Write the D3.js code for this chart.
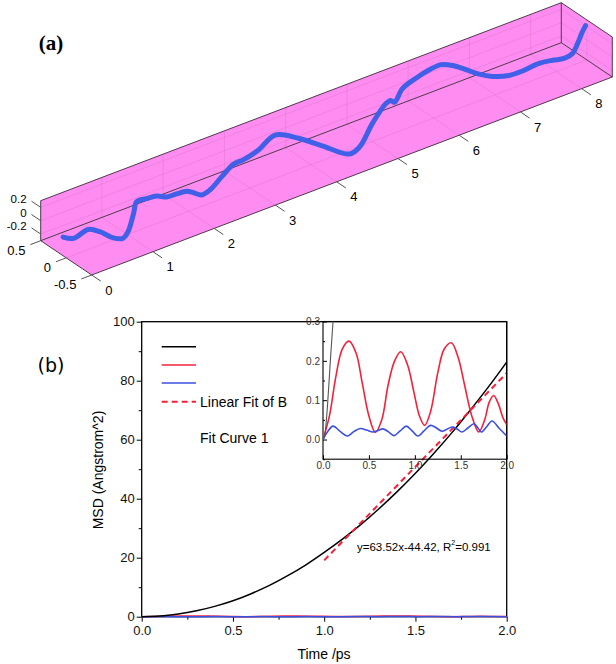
<!DOCTYPE html>
<html><head><meta charset="utf-8">
<script src="https://cdn.jsdelivr.net/npm/d3@7"></script>
<style>body{margin:0;background:#fff}svg{display:block}</style>
</head><body><svg id="c" width="616" height="664"></svg>
<script>
// ---------- Panel (a) data ----------
const boxXTicks = [0,1,2,3,4,5,6,7,8];
const boxYTicks = [0.5,0,-0.5];
const boxZTicks = [0.2,0,-0.2];
const trajX = [-0.05,0.12,0.36,0.55,0.77,0.93,1.01,1.10,1.15,1.31,1.48,1.64,1.80,1.97,2.08,2.21,2.35,2.54,2.73,2.89,3.14,3.41,3.79,4.18,4.63,4.79,5.00,5.22,5.30,5.36,5.49,5.71,5.93,6.12,6.31,6.53,6.74,6.96,7.23,7.45,7.72,7.94,8.13,8.27,8.35,8.43,8.48];
const trajZ = [0.03,-0.05,0.00,-0.10,-0.27,-0.33,-0.26,-0.02,0.14,0.13,0.11,0.04,0.03,0.01,-0.05,-0.13,-0.10,0.03,0.15,0.16,0.22,0.35,0.17,-0.08,-0.36,-0.31,-0.03,0.19,0.21,0.16,0.32,0.40,0.45,0.46,0.38,0.24,0.10,-0.01,-0.09,-0.10,-0.08,-0.11,-0.15,-0.12,0.00,0.15,0.22];

// ---------- Panel (b) data ----------
const msdT = [0,0.1,0.2,0.3,0.4,0.5,0.6,0.7,0.8,0.9,1.0,1.1,1.2,1.3,1.4,1.5,1.6,1.7,1.8,1.9,2.0];
const msdA = [0,0.2,0.9,2.0,3.5,5.4,7.8,10.6,13.9,17.6,21.8,26.3,31.2,36.6,42.4,48.6,55.3,62.4,70.0,77.9,86.3];
const fitT = [1.0,2.0];
const fitV = [19.1,82.6];
const insetBlackT = [0,0.02,0.05,0.08,0.115];
const insetBlackV = [0,0.012,0.09,0.2,0.32];
const redT = [0,0.07,0.14,0.21,0.283,0.36,0.43,0.50,0.57,0.64,0.71,0.78,0.846,0.92,0.99,1.05,1.107,1.17,1.25,1.32,1.397,1.47,1.54,1.62,1.695,1.76,1.81,1.858,1.91,1.96,2.0];
const redV = [0,0.06,0.16,0.23,0.25,0.22,0.14,0.06,0.018,0.05,0.14,0.20,0.223,0.19,0.12,0.06,0.036,0.07,0.17,0.23,0.246,0.21,0.14,0.06,0.019,0.05,0.095,0.112,0.09,0.055,0.038];
const blueT = [0,0.05,0.109,0.19,0.265,0.335,0.406,0.475,0.544,0.60,0.653,0.71,0.773,0.84,0.907,0.97,1.034,1.10,1.172,1.23,1.296,1.355,1.415,1.465,1.513,1.58,1.644,1.685,1.724,1.78,1.84,1.92,2.0];
const blueV = [0,0.02,0.034,0.02,0.009,0.02,0.028,0.024,0.019,0.023,0.027,0.02,0.010,0.022,0.034,0.022,0.009,0.022,0.036,0.03,0.021,0.027,0.032,0.026,0.019,0.03,0.040,0.03,0.019,0.032,0.047,0.028,0.009];
const mainXTicks = [0,0.5,1.0,1.5,2.0];
const mainXMinor = [0.25,0.75,1.25,1.75];
const mainYTicks = [0,20,40,60,80,100];
const mainYMinor = [10,30,50,70,90];
const insetXTicks = [0,0.5,1.0,1.5,2.0];
const insetYTicks = [0,0.1,0.2,0.3];
const insetYMinor = [-0.05,0.05,0.15,0.25];
const legendLabels = ["", "", "", "Linear Fit of B"];

const FONT = "'Liberation Sans', Arial, sans-serif";
const RED = "#f5213b", BLUE = "#3b4fe0";
const svg = d3.select("#c");

// ================= Panel (a) =================
const hx = d3.scaleLinear().domain([0,8.5]).range([40.7,561.3]);
const vx = d3.scaleLinear().domain([0,8.5]).range([240.7,42.7]);
const hy = d3.scaleLinear().domain([0.5,-0.5]).range([0,51]);
const vy = d3.scaleLinear().domain([0.5,-0.5]).range([0,34.3]);
const vz = d3.scaleLinear().domain([-0.3,0.3]).range([0,-40]);
const P = (x,y,z) => [hx(x)+hy(y), vx(x)+vy(y)+vz(z)];
const gA = svg.append("g");
const X0=0,X1=8.5,Y0=-0.5,Y1=0.5,Z0=-0.3,Z1=0.3;
const walls = [
  [P(X0,Y1,Z0),P(X1,Y1,Z0),P(X1,Y1,Z1),P(X0,Y1,Z1)],
  [P(X0,Y1,Z0),P(X1,Y1,Z0),P(X1,Y0,Z0),P(X0,Y0,Z0)],
  [P(X1,Y1,Z0),P(X1,Y0,Z0),P(X1,Y0,Z1),P(X1,Y1,Z1)]
];
gA.selectAll("path.wall").data(walls).join("path")
  .attr("d", d => "M"+d.map(p=>p.join(",")).join("L")+"Z")
  .attr("fill","#ff8cf0").attr("stroke","none");
// grid
const grid = [];
boxXTicks.filter(v=>v>0).forEach(v=>{ grid.push([P(v,Y1,Z0),P(v,Y1,Z1)]); grid.push([P(v,Y1,Z0),P(v,Y0,Z0)]); });
boxZTicks.forEach(v=>{ grid.push([P(X0,Y1,v),P(X1,Y1,v)]); grid.push([P(X1,Y1,v),P(X1,Y0,v)]); });
[0].forEach(v=>{ grid.push([P(X0,v,Z0),P(X1,v,Z0)]); grid.push([P(X1,v,Z0),P(X1,v,Z1)]); });
gA.selectAll("line.grid").data(grid).join("line")
  .attr("x1",d=>d[0][0]).attr("y1",d=>d[0][1]).attr("x2",d=>d[1][0]).attr("y2",d=>d[1][1])
  .attr("stroke","#b05aa8").attr("stroke-opacity",0.3).attr("stroke-width",0.7);
// edges
const edges = [
  [P(X0,Y1,Z1),P(X1,Y1,Z1)],[P(X0,Y1,Z0),P(X0,Y1,Z1)],[P(X0,Y1,Z0),P(X1,Y1,Z0)],
  [P(X0,Y1,Z0),P(X0,Y0,Z0)],[P(X0,Y0,Z0),P(X1,Y0,Z0)],
  [P(X1,Y1,Z1),P(X1,Y0,Z1)],[P(X1,Y0,Z1),P(X1,Y0,Z0)],[P(X1,Y1,Z0),P(X1,Y0,Z0)],[P(X1,Y1,Z0),P(X1,Y1,Z1)]
];
gA.selectAll("line.edge").data(edges).join("line")
  .attr("x1",d=>d[0][0]).attr("y1",d=>d[0][1]).attr("x2",d=>d[1][0]).attr("y2",d=>d[1][1])
  .attr("stroke","#3a2a3a").attr("stroke-width",0.9);
// trajectory
const traj = trajX.map((x,i)=>P(x,0,trajZ[i]));
gA.append("path").attr("d", d3.line().curve(d3.curveCatmullRom.alpha(0.5))(traj))
  .attr("fill","none").attr("stroke","#4060e8").attr("stroke-width",5)
  .attr("stroke-linecap","round").attr("stroke-linejoin","round");
// ticks
const tickLen = 11;
const ux=[0.83,0.558], ud=[-0.935,0.356], uz=[-0.83,-0.558];
function tickG(pts, dir, lab, dx, dy, anchor, fs){
  pts.forEach((p,i)=>{
    const e=[p[0]+dir[0]*tickLen, p[1]+dir[1]*tickLen];
    gA.append("line").attr("x1",p[0]).attr("y1",p[1]).attr("x2",e[0]).attr("y2",e[1])
      .attr("stroke","#555").attr("stroke-width",1);
    gA.append("text").attr("x",e[0]+dx).attr("y",e[1]+dy).attr("text-anchor",anchor)
      .attr("dominant-baseline","central").attr("font-family",FONT).attr("font-size",fs).text(lab[i]);
  });
}
tickG(boxXTicks.map(v=>P(v,Y0,Z0)), ux, boxXTicks.map(String), 8, 9, "middle", 13);
tickG(boxYTicks.map(v=>P(X0,v,Z0)), ud, boxYTicks.map(String), -5, 6, "end", 13);
tickG(boxZTicks.map(v=>P(X0,Y1,v)), uz, boxZTicks.map(String), -5, -2, "end", 11.5);
gA.append("text").attr("x",51).attr("y",50).attr("text-anchor","middle")
  .attr("font-family","Liberation Serif, DejaVu Serif, serif").attr("font-weight","bold")
  .attr("font-size",21).text("(a)");

// ================= Panel (b) =================
const gB = svg.append("g");
const x = d3.scaleLinear().domain([0,2]).range([141.7,506.7]);
const y = d3.scaleLinear().domain([0,100]).range([616.7,321.7]);
const line = (xs,ys,sx,sy,curve) => d3.line().curve(curve||d3.curveLinear).x(d=>sx(d[0])).y(d=>sy(d[1]))(xs.map((t,i)=>[t,ys[i]]));

function styleAxis(g, fs){
  g.select(".domain").remove();
  g.selectAll("text").attr("font-family",FONT).attr("font-size",fs).attr("fill","#111");
  g.selectAll("line").attr("stroke","#000");
}
styleAxis(gB.append("g").attr("transform","translate(141.7,0)")
  .call(d3.axisLeft(y).tickValues(mainYTicks).tickSize(5).tickPadding(2).tickFormat(d3.format("d"))),13);
styleAxis(gB.append("g").attr("transform","translate(141.7,0)")
  .call(d3.axisLeft(y).tickValues(mainYMinor).tickSize(3).tickFormat("")),13);
styleAxis(gB.append("g").attr("transform","translate(0,616.7)")
  .call(d3.axisBottom(x).tickValues(mainXTicks).tickSize(5).tickPadding(4).tickFormat(d3.format(".1f"))),13);
styleAxis(gB.append("g").attr("transform","translate(0,616.7)")
  .call(d3.axisBottom(x).tickValues(mainXMinor).tickSize(3).tickFormat("")),13);
gB.append("rect").attr("x",141.7).attr("y",321.7).attr("width",365).attr("height",295)
  .attr("fill","none").attr("stroke","#000").attr("stroke-width",1.3);

// main curves
gB.append("path").attr("d",line(redT,redV,x,y)).attr("fill","none").attr("stroke",RED).attr("stroke-width",1.5);
gB.append("path").attr("d",line(blueT,blueV,x,y)).attr("fill","none").attr("stroke",BLUE).attr("stroke-width",1.5);
gB.append("path").attr("d",line(msdT,msdA,x,y,d3.curveMonotoneX)).attr("fill","none").attr("stroke","#000").attr("stroke-width",1.5);
gB.append("path").attr("d",line(fitT,fitV,x,y)).attr("fill","none").attr("stroke",RED).attr("stroke-width",2).attr("stroke-dasharray","6,4");

// inset
const xi = d3.scaleLinear().domain([0,2]).range([323,506.7]);
const yi = d3.scaleLinear().domain([-0.05,0.3]).range([459.2,321.5]);
svg.append("defs").append("clipPath").attr("id","ic").append("rect")
  .attr("x",323).attr("y",321.5).attr("width",183.7).attr("height",137.7);
const gI = svg.append("g");
styleAxis(gI.append("g").attr("transform","translate(323,0)")
  .call(d3.axisLeft(yi).tickValues(insetYTicks).tickSizeInner(-4).tickSizeOuter(0).tickPadding(3).tickFormat(d3.format(".1f"))),10);
styleAxis(gI.append("g").attr("transform","translate(323,0)")
  .call(d3.axisLeft(yi).tickValues(insetYMinor).tickSizeInner(-2).tickSizeOuter(0).tickFormat("")),10);
styleAxis(gI.append("g").attr("transform","translate(0,459.2)")
  .call(d3.axisBottom(xi).tickValues(insetXTicks).tickSizeInner(-4).tickSizeOuter(0).tickPadding(3).tickFormat(d3.format(".1f"))),10);
gI.selectAll("text").attr("fill","#333");
gI.append("rect").attr("x",323).attr("y",321.5).attr("width",183.7).attr("height",137.7)
  .attr("fill","none").attr("stroke","#000").attr("stroke-width",1.1);
const gIc = gI.append("g").attr("clip-path","url(#ic)");
gIc.append("path").attr("d",line(redT,redV,xi,yi,d3.curveCatmullRom.alpha(0.5))).attr("fill","none").attr("stroke",RED).attr("stroke-width",1.6);
gIc.append("path").attr("d",line(blueT,blueV,xi,yi,d3.curveCatmullRom.alpha(0.5))).attr("fill","none").attr("stroke",BLUE).attr("stroke-width",1.6);
gIc.append("path").attr("d",line(insetBlackT,insetBlackV,xi,yi,d3.curveMonotoneX)).attr("fill","none").attr("stroke","#555").attr("stroke-width",1.1);

// legend
const legColors = ["#000",RED,BLUE,RED];
const legY = [346.7,365,383,401.7];
legColors.forEach((c,i)=>{
  gB.append("line").attr("x1",161.7).attr("x2",196).attr("y1",legY[i]).attr("y2",legY[i])
    .attr("stroke",c).attr("stroke-width",i===3?2:1.6).attr("stroke-dasharray",i===3?"6,4":null);
  if(legendLabels[i]) gB.append("text").attr("x",200).attr("y",legY[i]).attr("dominant-baseline","central")
    .attr("font-family",FONT).attr("font-size",14).text(legendLabels[i]);
});
gB.append("text").attr("x",200).attr("y",437.7).attr("dominant-baseline","central")
  .attr("font-family",FONT).attr("font-size",14).text("Fit Curve 1");
const ann = gB.append("text").attr("x",357).attr("y",547.3).attr("dominant-baseline","central")
  .attr("font-family",FONT).attr("font-size",11.5);
ann.append("tspan").text("y=63.52x-44.42, R");
ann.append("tspan").attr("font-size",7).attr("dy",-5).text("2");
ann.append("tspan").attr("dy",5).text("=0.991");

// axis titles
gB.append("text").attr("x",324).attr("y",654).attr("text-anchor","middle").attr("dominant-baseline","central")
  .attr("font-family",FONT).attr("font-size",14).text("Time /ps");
gB.append("text").attr("transform","translate(98,470) rotate(-90)").attr("text-anchor","middle").attr("dominant-baseline","central")
  .attr("font-family",FONT).attr("font-size",14).text("MSD (Angstrom^2)");
gB.append("text").attr("x",51).attr("y",365).attr("text-anchor","middle").attr("dominant-baseline","central")
  .attr("font-family","'DejaVu Sans', Verdana, sans-serif").attr("font-size",19).text("(b)");
</script></body></html>
